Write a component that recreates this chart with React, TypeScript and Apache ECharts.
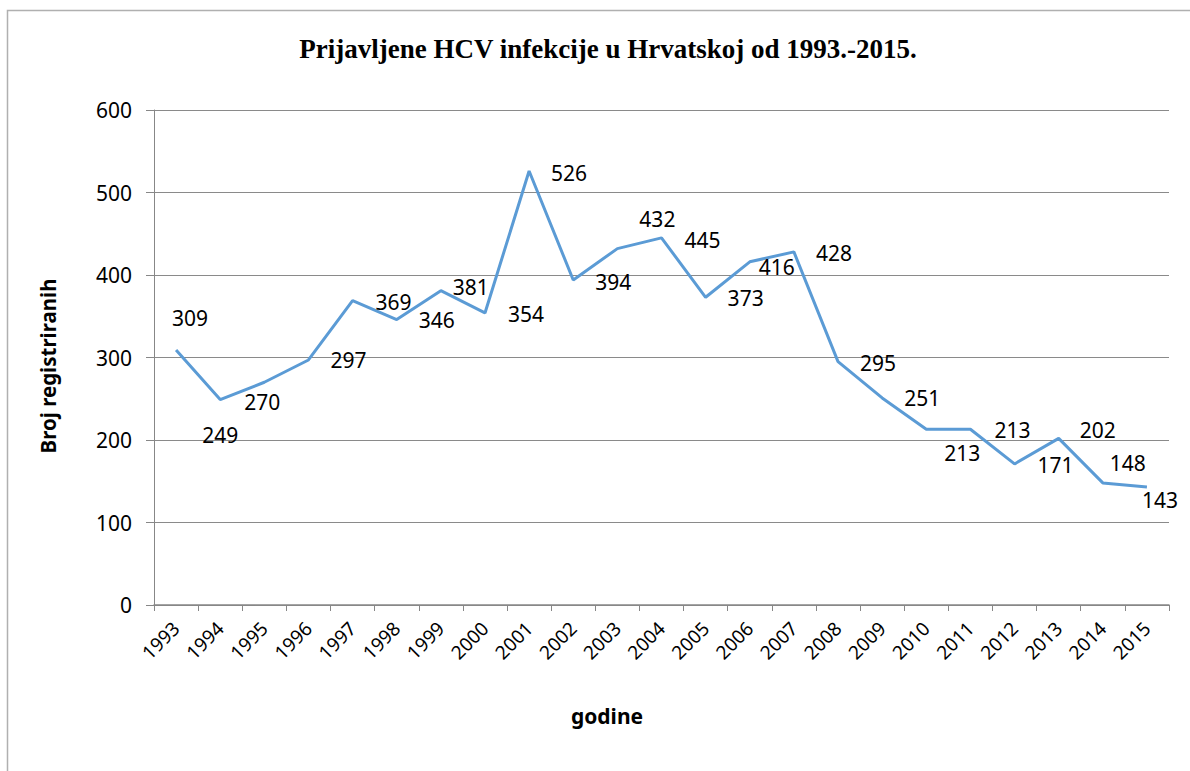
import React, { useEffect, useRef } from "react";
import * as echarts from "echarts";

const years = ["1993","1994","1995","1996","1997","1998","1999","2000","2001","2002","2003","2004","2005","2006","2007","2008","2009","2010","2011","2012","2013","2014","2015"];
const cases = [309,249,270,297,369,346,381,354,526,394,432,445,373,416,428,295,251,213,213,171,202,148,143];
const labelOffsets: [number, number][] = [
  [14,-32],[0,35],[-2,20],[40,0],[41,1],[40,0],[30,-4],[41,1],[40,2],[40,2],[40,-30],[41,2],
  [40,1],[27,5],[40,1],[40,1],[40,0],[36,24],[42,1],[41,1],[39,-8],[25,-20],[13,13]
];
const yTicks = { min: 0, max: 600, interval: 100 };
const titleText = "Prijavljene HCV infekcije u Hrvatskoj od 1993.-2015.";
const xName = "godine";
const yName = "Broj registriranih";

export default function App() {
  const ref = useRef<HTMLDivElement>(null);
  useEffect(() => {
    const chart = echarts.init(ref.current!, null, { renderer: "svg" });
    const font = "'Noto Sans', sans-serif";
    chart.setOption({
      animation: false,
      backgroundColor: "#ffffff",
      title: {
        text: titleText,
        left: 603,
        textAlign: "center",
        top: 30,
        textStyle: { fontFamily: "'Liberation Serif', 'Times New Roman', serif", fontWeight: "bold", fontSize: 27, color: "#000" },
      },
      graphic: [
        { type: "rect", shape: { x: 7.5, y: 10.5, width: 1200, height: 800 }, style: { fill: "none", stroke: "#b0b0b0", lineWidth: 1.5 }, silent: true, z: -1 },
        { type: "text", x: 48, y: 366, rotation: Math.PI / 2, style: { text: yName, fontFamily: font, fontWeight: "bold", fontSize: 20.5, fill: "#000", align: "center", verticalAlign: "middle" } },
        { type: "text", x: 607, y: 716, style: { text: xName, fontFamily: font, fontWeight: "bold", fontSize: 21, fill: "#000", align: "center", verticalAlign: "middle" } },
      ],
      grid: { left: 154, right: 21, top: 110, bottom: 166 },
      xAxis: {
        type: "category",
        data: years,
        boundaryGap: true,
        axisLine: { lineStyle: { color: "#878787", width: 1.5 } },
        axisTick: { show: true, length: 6, alignWithLabel: false, lineStyle: { color: "#878787" } },
        axisLabel: { rotate: 45, interval: 0, margin: 20, fontFamily: font, fontSize: 19, color: "#000" },
        splitLine: { show: false },
      },
      yAxis: {
        type: "value",
        min: yTicks.min,
        max: yTicks.max,
        interval: yTicks.interval,
        axisLine: { show: true, lineStyle: { color: "#878787" } },
        axisTick: { show: true, length: 8, lineStyle: { color: "#878787" } },
        axisLabel: { margin: 22, fontFamily: font, fontSize: 21, color: "#000" },
        splitLine: { show: true, lineStyle: { color: "#8a8a8a", width: 1 } },
      },
      series: [
        {
          type: "line",
          data: cases.map((v, i) => ({
            value: v,
            label: { offset: labelOffsets[i] },
          })),
          symbol: "circle",
          symbolSize: 1,
          showSymbol: true,
          itemStyle: { color: "rgba(0,0,0,0)", borderWidth: 0 },
          lineStyle: { color: "#5B9BD5", width: 3 },
          label: {
            show: true,
            position: "inside",
            fontFamily: font,
            fontSize: 21,
            color: "#000",
          },
        },
      ],
    });
    return () => chart.dispose();
  }, []);
  return <div ref={ref} style={{ position: "fixed", left: 0, top: 0, width: 1190, height: 771 }} />;
}
